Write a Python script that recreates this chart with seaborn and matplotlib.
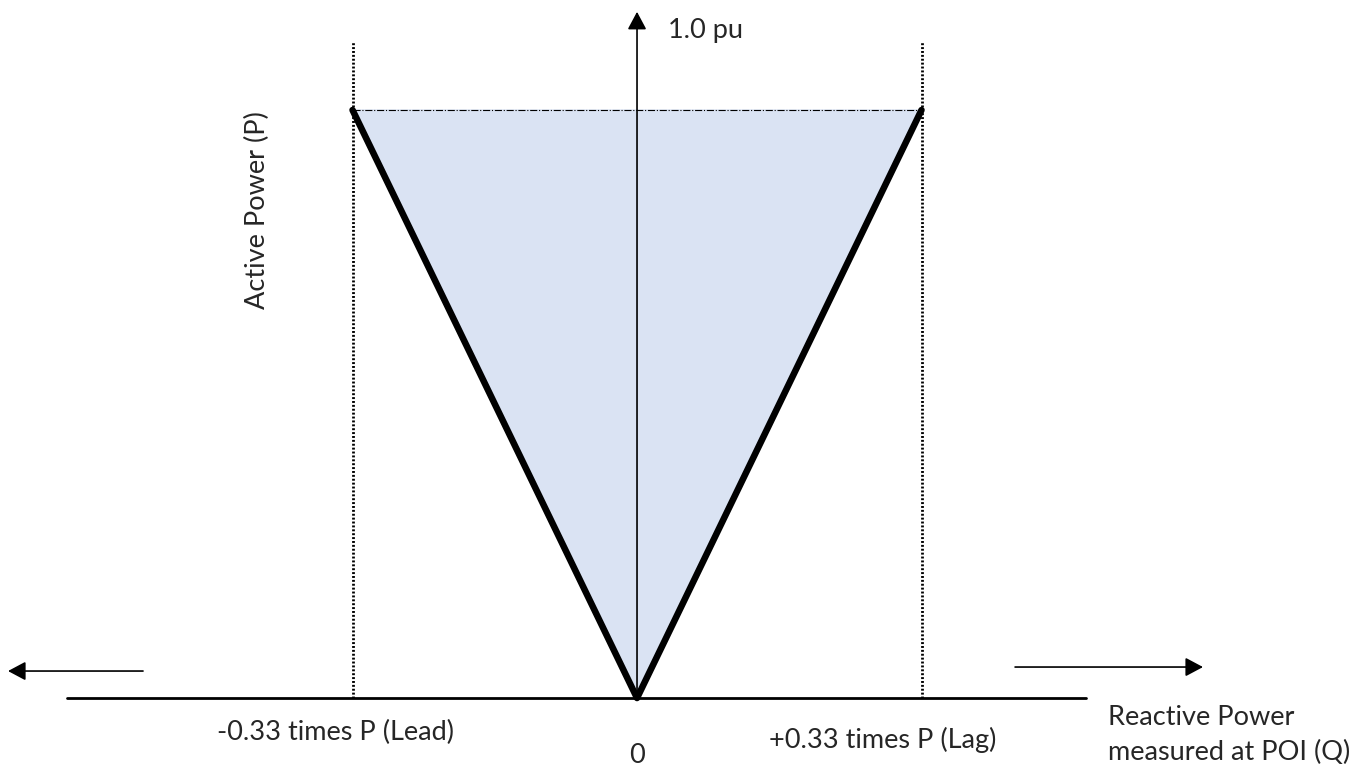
import pandas as pd
import matplotlib.pyplot as plt
import seaborn as sns

# Capability curve data (Q in times P, P in pu)
q_corner = [-0.33, 0.0, 0.33]
p_corner = [1.0, 0.0, 1.0]
q_limit = [-0.33, 0.33]
p_max = 1.0

lbl_p = "Active Power (P)"
lbl_pu = "1.0 pu"
lbl_lead = "-0.33 times P (Lead)"
lbl_lag = "+0.33 times P (Lag)"
lbl_zero = "0"
lbl_q = "Reactive Power\nmeasured at POI (Q)"

sns.set_theme(style="white")
plt.rcParams['font.family'] = ['Lato', 'DejaVu Sans']

fig = plt.figure(figsize=(13.7, 7.67), dpi=100)
ax = fig.add_axes([0, 0, 1, 1])
ax.set_xlim(-0.7389, 0.8502)
ax.set_ylim(-0.1173, 1.1871)
ax.axis('off')

df = pd.DataFrame({'Q': q_corner, 'P': p_corner})

# shaded region
ax.fill(df['Q'], df['P'], color='#dae3f3', zorder=1)

# dotted limits
for q in q_limit:
    ax.plot([q, q], [0, 1.117], color='black', lw=2.0, ls=(0, (0.7, 0.7)), zorder=2)
ax.plot(q_limit, [p_max, p_max], color='black', lw=0.8, ls='-.', zorder=2)

# thick V edges
sns.lineplot(data=df, x='Q', y='P', sort=False, color='black', lw=4.7,
             ax=ax, zorder=4, legend=False)

# axes lines and arrows
ax.plot([-0.6612, 0.5208], [0, 0], color='black', lw=2.0, zorder=3)
arrow = dict(arrowstyle='-|>,head_length=0.45,head_width=0.24', color='black',
             lw=1.2, mutation_scale=24, shrinkA=0, shrinkB=0)
ax.annotate('', xy=(0, 1.167), xytext=(0, 0), arrowprops=arrow, zorder=3)
ax.annotate('', xy=(-0.7296, 0.0459), xytext=(-0.573, 0.0459), arrowprops=arrow)
ax.annotate('', xy=(0.6565, 0.0527), xytext=(0.4385, 0.0527), arrowprops=arrow)

fs = 19.5
ax.text(0.036, 1.136, lbl_pu, fontsize=fs, ha='left', va='center')
ax.text(-0.4408, 0.83, lbl_p, fontsize=fs, rotation=90, ha='center', va='center')
ax.text(-0.3503, -0.0578, lbl_lead, fontsize=fs, ha='center', va='center')
ax.text(0.0, -0.097, lbl_zero, fontsize=fs, ha='center', va='center')
ax.text(0.2848, -0.0714, lbl_lag, fontsize=fs, ha='center', va='center')
ax.text(0.5463, -0.063, lbl_q, fontsize=fs, ha='left', va='center', linespacing=1.45)

fig.savefig('out.png', dpi=100)
